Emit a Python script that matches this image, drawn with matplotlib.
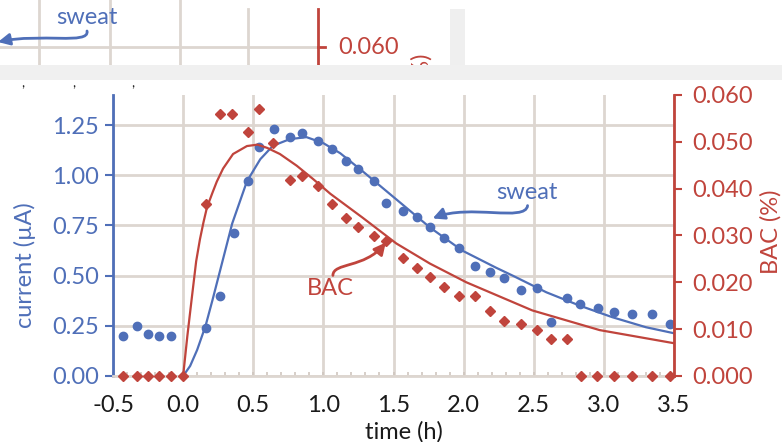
import matplotlib

matplotlib.use("Agg")

import matplotlib.pyplot as plt
from matplotlib.patches import FancyArrowPatch, Rectangle
from matplotlib.path import Path
from matplotlib.ticker import FormatStrFormatter, MultipleLocator

plt.rcParams["font.family"] = ["Lato", "DejaVu Sans"]

BLUE = "#4f6fb8"
RED = "#c0443c"
GRID = "#ddd6d0"
FS = 17

# sweat sensor current (uA) vs time (h)
sweat_t = [-0.43, -0.33, -0.25, -0.17, -0.09, 0.16, 0.26, 0.36, 0.46, 0.54,
           0.65, 0.76, 0.85, 0.96, 1.06, 1.16, 1.25, 1.36, 1.45, 1.57,
           1.67, 1.76, 1.86, 1.97, 2.08, 2.19, 2.29, 2.41, 2.52, 2.62,
           2.74, 2.83, 2.96, 3.07, 3.20, 3.34, 3.47]
sweat_current = [0.20, 0.25, 0.21, 0.20, 0.20, 0.24, 0.40, 0.71, 0.97, 1.14,
                 1.23, 1.19, 1.21, 1.17, 1.13, 1.07, 1.03, 0.97, 0.86, 0.82,
                 0.79, 0.74, 0.69, 0.64, 0.55, 0.52, 0.49, 0.43, 0.44, 0.27,
                 0.39, 0.36, 0.34, 0.32, 0.31, 0.31, 0.26]

# blood alcohol (%) vs time (h)
bac_t = [-0.43, -0.33, -0.25, -0.17, -0.09, 0.0, 0.16, 0.26, 0.35, 0.46,
         0.54, 0.64, 0.76, 0.85, 0.96, 1.06, 1.16, 1.25, 1.36, 1.45,
         1.57, 1.67, 1.76, 1.86, 1.97, 2.08, 2.19, 2.29, 2.41, 2.52,
         2.62, 2.74, 2.84, 2.95, 3.07, 3.20, 3.34, 3.47]
bac_pct = [0.0, 0.0, 0.0, 0.0, 0.0, 0.0, 0.0368, 0.0560, 0.0560, 0.0520,
           0.0570, 0.0498, 0.0419, 0.0428, 0.0406, 0.0368, 0.0338, 0.0319, 0.0298, 0.0289,
           0.0251, 0.0231, 0.0211, 0.0189, 0.0170, 0.0170, 0.0138, 0.0117, 0.0111, 0.0098,
           0.0079, 0.0079, 0.0, 0.0, 0.0, 0.0, 0.0, 0.0]

# model curves
sweat_fit_t = [0.0, 0.05, 0.10, 0.16, 0.21, 0.28, 0.35, 0.455, 0.55, 0.64,
               0.76, 0.88, 1.0, 1.12, 1.28, 1.52, 1.76, 1.99, 2.23, 2.35,
               2.59, 2.83, 3.06, 3.30, 3.5]
sweat_fit = [0.0, 0.05, 0.13, 0.25, 0.38, 0.57, 0.76, 0.97, 1.08, 1.147,
             1.18, 1.19, 1.16, 1.11, 1.02, 0.88, 0.74, 0.625, 0.54, 0.50,
             0.417, 0.35, 0.293, 0.243, 0.213]
bac_fit_t = [0.0, 0.03, 0.06, 0.093, 0.12, 0.145, 0.17, 0.21, 0.24, 0.285,
             0.356, 0.455, 0.53, 0.60, 0.69, 0.81, 0.925, 1.05, 1.28, 1.52,
             1.76, 2.02, 2.49, 2.97, 3.5]
bac_fit = [0.0, 0.0085, 0.0162, 0.0245, 0.0292, 0.0328, 0.0360, 0.0392, 0.0415, 0.0443,
           0.0474, 0.0491, 0.0494, 0.0487, 0.0474, 0.0449, 0.0421, 0.0389, 0.0338, 0.0283,
           0.0240, 0.0200, 0.0140, 0.0098, 0.0070]


def curved_arrow(ax, pts, color):
    codes = [Path.MOVETO, Path.CURVE4, Path.CURVE4, Path.CURVE4]
    arrow = FancyArrowPatch(path=Path(pts, codes),
                            arrowstyle="-|>,head_length=7,head_width=3.5",
                            color=color, lw=2, zorder=6)
    ax.add_patch(arrow)


def draw_header_strip(fig):
    # leftover strip along the top edge, drawn in pixel units
    hdr = fig.add_axes([0, 1 - 65 / 442, 1, 65 / 442])
    hdr.set_xlim(0, 782)
    hdr.set_ylim(65, 0)
    hdr.axis("off")
    for x in [39, 110, 180]:
        hdr.plot([x, x], [0, 65], color=GRID, lw=2)
    hdr.plot([248, 248], [9, 65], color=GRID, lw=2)
    hdr.plot([0, 318], [47, 47], color=GRID, lw=2)
    hdr.plot([318, 318], [9, 65], color=RED, lw=2)
    hdr.plot([318, 325], [47, 47], color=RED, lw=2)
    hdr.text(338, 47, "0.060", color=RED, fontsize=FS, va="center")
    hdr.text(422, 54, "BAC (%)", color=RED, fontsize=FS, rotation=90,
             ha="right", va="center", rotation_mode="anchor", clip_on=True)
    hdr.add_patch(Rectangle((450, 9), 15, 56, color="#efefef", lw=0))
    hdr.text(87, 18, "sweat", color=BLUE, fontsize=FS, ha="center", va="center")
    curved_arrow(hdr, [(87, 31), (90, 45), (40, 33), (-2, 42)], BLUE)

    band = fig.add_axes([0, 1 - 80 / 442, 1, 15 / 442])
    band.axis("off")
    band.add_patch(Rectangle((0, 0), 1, 1, color="#f0f0f0", lw=0,
                             transform=band.transAxes))
    for x in [23, 74, 133]:
        fig.text(x / 782, 1 - 83 / 442, ",", color="#222222", fontsize=10,
                 ha="center", va="center")


fig = plt.figure(figsize=(7.82, 4.42), dpi=100)
draw_header_strip(fig)

ax = fig.add_axes([113 / 782, 66 / 442, 561 / 782, 281 / 442])
ax2 = ax.twinx()

ax.set_xlim(-0.5, 3.5)
ax.set_ylim(0, 1.4)
ax2.set_ylim(0, 0.06)

ax.xaxis.set_major_locator(MultipleLocator(0.5))
ax.xaxis.set_minor_locator(MultipleLocator(0.1))
ax.yaxis.set_major_locator(MultipleLocator(0.25))
ax2.yaxis.set_major_locator(MultipleLocator(0.01))
ax.xaxis.set_major_formatter(FormatStrFormatter("%.1f"))
ax.yaxis.set_major_formatter(FormatStrFormatter("%.2f"))
ax2.yaxis.set_major_formatter(FormatStrFormatter("%.3f"))

ax.grid(True, which="major", color=GRID, lw=2)
ax.set_axisbelow(True)

for side in ["top", "right"]:
    ax.spines[side].set_visible(False)
for side in ["top", "left", "bottom"]:
    ax2.spines[side].set_visible(False)
ax.spines["left"].set_color(BLUE)
ax.spines["left"].set_linewidth(2)
ax.spines["bottom"].set_color(GRID)
ax.spines["bottom"].set_linewidth(2)
ax2.spines["right"].set_color(RED)
ax2.spines["right"].set_linewidth(2)

ax.tick_params(axis="y", colors=BLUE, labelsize=FS, length=6, width=1.5, pad=4)
ax2.tick_params(axis="y", colors=RED, labelsize=FS, length=6, width=1.5, pad=7)
ax.tick_params(axis="x", which="both", direction="in", length=3, width=1.2,
               color="#cfc6bf", labelcolor="#1a1a1a", labelsize=FS, pad=14)

ax.plot(sweat_fit_t, sweat_fit, color=BLUE, lw=1.6, zorder=3)
ax.plot(sweat_t, sweat_current, "o", ms=6, color=BLUE, clip_on=False, zorder=4)
ax2.plot(bac_fit_t, bac_fit, color=RED, lw=1.6, zorder=3)
ax2.plot(bac_t, bac_pct, "D", ms=5.2, color=RED, clip_on=False, zorder=5)

ax.text(0.519, -0.199, "time (h)", transform=ax.transAxes, fontsize=FS,
        color="#1a1a1a", ha="center", va="center")
ax.text(-0.157, 0.395, "current (µA)", transform=ax.transAxes, fontsize=FS,
        color=BLUE, ha="center", va="center", rotation=90)
ax.text(1.173, 0.512, "BAC (%)", transform=ax.transAxes, fontsize=FS,
        color=RED, ha="center", va="center", rotation=90)

ax.text(2.448, 0.914, "sweat", color=BLUE, fontsize=FS, ha="center", va="center")
curved_arrow(ax, [(2.456, 0.849), (2.441, 0.765), (2.043, 0.859), (1.779, 0.785)], BLUE)
ax.text(1.053, 0.437, "BAC", color=RED, fontsize=FS, ha="center", va="center")
curved_arrow(ax, [(1.068, 0.501), (1.068, 0.566), (1.295, 0.536), (1.445, 0.665)], RED)

fig.savefig("out.png", dpi=100)
